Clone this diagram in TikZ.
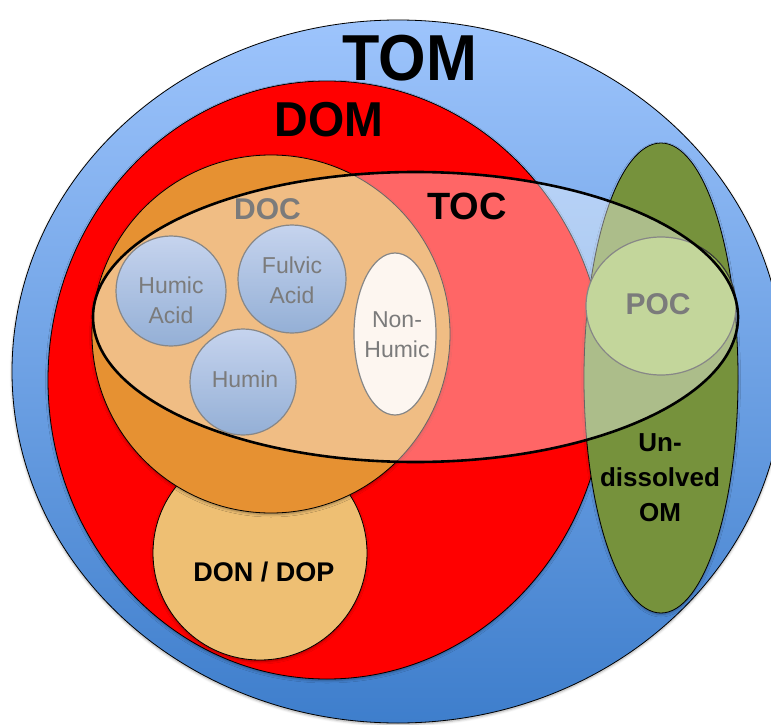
\documentclass[tikz,border=0pt]{standalone}
\usepackage{fontspec}
\setmainfont{Liberation Sans}
\usetikzlibrary{shapes.geometric,shadows.blur}

% palette
\definecolor{tomtop}{RGB}{157,196,252}
\definecolor{tombot}{RGB}{62,126,204}
\definecolor{domred}{RGB}{255,0,0}
\definecolor{docorange}{RGB}{230,145,50}
\definecolor{donfill}{RGB}{238,191,115}
\definecolor{omgreen}{RGB}{118,146,60}
\definecolor{pocgreen}{RGB}{155,187,89}
\definecolor{acidtop}{RGB}{160,183,227}
\definecolor{acidbot}{RGB}{77,123,187}
\definecolor{nonhum}{RGB}{252,240,230}
\definecolor{inkgray}{RGB}{35,35,35}
\definecolor{edgegray}{RGB}{55,55,55}

\tikzset{
  blob/.style={ellipse, inner sep=0pt, outer sep=0pt, draw=black, line width=0.8pt},
  soft/.style={blur shadow={shadow xshift=0pt, shadow yshift=-1.5pt,
      shadow blur radius=2.5pt, shadow opacity=35}},
  fraction/.style={circle, inner sep=0pt, minimum size=#1, draw=edgegray,
      line width=1.2pt, top color=acidtop, bottom color=acidbot},
  bigtitle/.style={font=\fontsize{#1}{#1}\selectfont\bfseries, inner sep=0pt},
  inner/.style={font=\fontsize{23}{30}\selectfont, text=inkgray, align=center, inner sep=0pt},
}

\begin{document}
\begin{tikzpicture}[x=1pt,y=-1pt]
\useasboundingbox (0,0) rectangle (771,725);

% nested pools
\node[blob, soft, minimum width=772, minimum height=703,
      top color=tomtop, bottom color=tombot] (tom) at (398,371.5) {};
\node[blob, soft, fill=domred, minimum width=558, minimum height=598] (dom) at (327,380) {};
\node[blob, soft, fill=donfill, minimum width=214, minimum height=214] (don) at (260,553) {};
\node[blob, soft, fill=docorange, minimum width=358, minimum height=358] (doc) at (271,334) {};
\node[blob, soft, fill=omgreen, minimum width=154, minimum height=470] (undom) at (661,378) {};
\node[blob, draw=edgegray, line width=1.2pt, fill=pocgreen,
      minimum width=150, minimum height=138] (poc) at (661,306) {};

% DOC fractions
\node[fraction=110] (humic) at (171,291) {};
\node[fraction=108] (fulvic) at (292,279) {};
\node[fraction=106] (humin) at (243,382) {};
\node[blob, draw=edgegray, line width=1.2pt, fill=nonhum,
      minimum width=82, minimum height=162] (nonhumic) at (395,334) {};

\node[inner] (humictxt) at (171,300) {Humic\\Acid};
\node[inner] (fulvictxt) at (292,280) {Fulvic\\Acid};
\node[inner] (humintxt) at (245,379) {Humin};
\node[inner] (nonhumtxt) at (397,335) {Non-\\Humic};
\node[bigtitle=30, text=inkgray] (doctxt) at (267.5,209) {DOC};
\node[bigtitle=30, text=inkgray] (poctxt) at (658,304) {POC};

% total organic carbon: translucent band
\node[blob, line width=2.6pt, fill=white, fill opacity=0.4, draw opacity=1,
      text opacity=1, minimum width=645, minimum height=290] (toc) at (415.5,317) {};

% labels
\node[bigtitle=65, xscale=0.94] (tomtxt) at (410,58.5) {TOM};
\node[bigtitle=49, xscale=0.95] (domtxt) at (329,119.5) {DOM};
\node[bigtitle=38] (toctxt) at (467,206) {TOC};
\node[bigtitle=27] (dontxt) at (264,572) {DON / DOP};
\node[font=\fontsize{26}{35}\selectfont\bfseries, align=center, inner sep=0pt]
      (undomtxt) at (660,478) {Un-\\dissolved\\OM};
\end{tikzpicture}
\end{document}
